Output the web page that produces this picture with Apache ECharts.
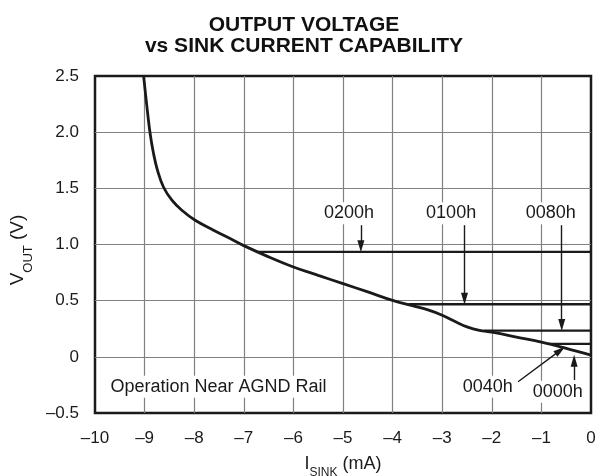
<!DOCTYPE html>
<html>
<head>
<meta charset="utf-8">
<script src="https://cdn.jsdelivr.net/npm/echarts@6/dist/echarts.min.js"></script>
<style>
html,body{margin:0;padding:0;background:#fff;}
#chart{width:599px;height:476px;}
</style>
</head>
<body>
<div id="chart"></div>
<script>
// ---- data ----
var curveI = [-9.02, -8.96, -8.89, -8.82, -8.74, -8.62, -8.45, -8.25, -7.98, -7.61, -7.21, -7.0, -6.5, -6.0, -5.5, -5.0, -4.5, -4.0, -3.6, -3.3, -3.0, -2.7, -2.5, -2.25, -2.0, -1.5, -1.0, -0.5, 0];
var curveV = [2.5, 2.254, 1.993, 1.81, 1.66, 1.512, 1.394, 1.305, 1.216, 1.127, 1.038, 0.99, 0.89, 0.80, 0.725, 0.652, 0.578, 0.502, 0.455, 0.42, 0.37, 0.305, 0.267, 0.236, 0.219, 0.176, 0.131, 0.075, 0.015];
var plateauCodes = ['0200h', '0100h', '0080h', '0040h'];
var plateauV = [0.935, 0.468, 0.233, 0.116];
var plateauStartI = [-6.75, -3.68, -2.15, -0.85];
var xTickLabels = ['\u201310', '\u20139', '\u20138', '\u20137', '\u20136', '\u20135', '\u20134', '\u20133', '\u20132', '\u20131', '0'];
var yTickLabels = ['\u20130.5', '0', '0.5', '1.0', '1.5', '2.0', '2.5'];
// annotation labels
var annoText = ['0200h', '0100h', '0080h', '0040h', '0000h', 'Operation Near AGND Rail'];
var annoI = [-4.88, -2.82, -0.81, -2.08, -0.67, -7.51];
var annoV = [1.278, 1.278, 1.278, -0.267, -0.311, -0.267];
// arrows: from (I1,V1) to (I2,V2)
var arrowFromI = [-4.64, -2.55, -0.59, -1.47, -0.34];
var arrowFromV = [1.172, 1.172, 1.172, -0.222, -0.207];
var arrowToI = [-4.64, -2.55, -0.59, -0.62, -0.34];
var arrowToV = [0.985, 0.518, 0.283, 0.057, -0.035];

var FONT = "'Liberation Sans', Arial, Helvetica, sans-serif";
var chart = echarts.init(document.getElementById('chart'), null, {renderer: 'canvas'});

var series = [];
series.push({
  type: 'line', name: '0000h',
  data: curveI.map(function (x, i) { return [x, curveV[i]]; }),
  showSymbol: false, symbol: 'none', smooth: 0.4,
  lineStyle: {color: '#1a1a1a', width: 2.8},
  z: 5, silent: true
});
plateauV.forEach(function (v, i) {
  series.push({
    type: 'line', name: plateauCodes[i],
    data: [[plateauStartI[i], v], [0, v]],
    symbol: 'none', showSymbol: false,
    lineStyle: {color: '#1a1a1a', width: 2.3},
    z: 5, silent: true
  });
});
series.push({
  type: 'scatter', name: 'anno',
  data: annoText.map(function (t, i) { return {value: [annoI[i], annoV[i]], name: t}; }),
  symbolSize: 0,
  itemStyle: {opacity: 1},
  silent: true,
  z: 6,
  label: {
    show: true, position: 'inside',
    formatter: function (p) { return p.name; },
    color: '#1a1a1a', fontFamily: FONT, fontSize: 18,
    backgroundColor: '#fff', padding: [2, 3]
  },
  markLine: {
    silent: true,
    symbol: ['none', 'triangle'],
    symbolSize: [7, 12],
    label: {show: false},
    lineStyle: {color: '#1a1a1a', width: 1.4, type: 'solid', opacity: 1},
    itemStyle: {color: '#1a1a1a'},
    animation: false,
    data: arrowFromI.map(function (x, i) {
      return [{coord: [x, arrowFromV[i]]}, {coord: [arrowToI[i], arrowToV[i]]}];
    })
  }
});

chart.setOption({
  animation: false,
  backgroundColor: '#fff',
  title: {
    text: 'OUTPUT VOLTAGE\nvs SINK CURRENT CAPABILITY',
    left: 304, top: 15, padding: 0,
    textAlign: 'center',
    textStyle: {fontFamily: FONT, fontWeight: 'bold', fontSize: 21, lineHeight: 21, color: '#111'}
  },
  grid: {
    left: 95, right: 8, top: 76, bottom: 63,
    containLabel: false, outerBoundsMode: 'none',
    show: true, borderColor: '#1a1a1a', borderWidth: 2.5, backgroundColor: 'transparent'
  },
  xAxis: {
    type: 'value', min: -10, max: 0, interval: 1,
    axisLine: {show: false}, axisTick: {show: false},
    splitLine: {show: true, showMinLine: false, showMaxLine: false, lineStyle: {color: '#808080', width: 1.2}},
    axisLabel: {
      margin: 17, color: '#1a1a1a', fontFamily: FONT, fontSize: 17,
      formatter: function (v) { return xTickLabels[Math.round(v + 10)]; }
    },
    name: '{m|I}{s|SINK}{m| (mA)}',
    nameLocation: 'middle', nameGap: 42,
    nameTextStyle: {
      rich: {
        m: {fontFamily: FONT, fontSize: 18, color: '#1a1a1a', verticalAlign: 'top', lineHeight: 20},
        s: {fontFamily: FONT, fontSize: 12, color: '#1a1a1a', verticalAlign: 'bottom', lineHeight: 20, padding: [0, 0, -4, 0]}
      }
    }
  },
  yAxis: {
    type: 'value', min: -0.5, max: 2.5, interval: 0.5,
    axisLine: {show: false}, axisTick: {show: false},
    splitLine: {show: true, showMinLine: false, showMaxLine: false, lineStyle: {color: '#808080', width: 1.2}},
    axisLabel: {
      margin: 16, color: '#1a1a1a', fontFamily: FONT, fontSize: 17,
      formatter: function (v) { return yTickLabels[Math.round((v + 0.5) * 2)]; }
    },
    name: '{m|V}{s|OUT}{m| (V)}',
    nameLocation: 'middle', nameGap: 56, nameRotate: 90,
    nameTextStyle: {
      padding: [0, 11, 0, 0],
      rich: {
        m: {fontFamily: FONT, fontSize: 19, color: '#1a1a1a', verticalAlign: 'top', lineHeight: 24},
        s: {fontFamily: FONT, fontSize: 13, color: '#1a1a1a', verticalAlign: 'bottom', lineHeight: 24, padding: [0, 0, -3, 0]}
      }
    }
  },
  series: series
});
</script>
</body>
</html>
